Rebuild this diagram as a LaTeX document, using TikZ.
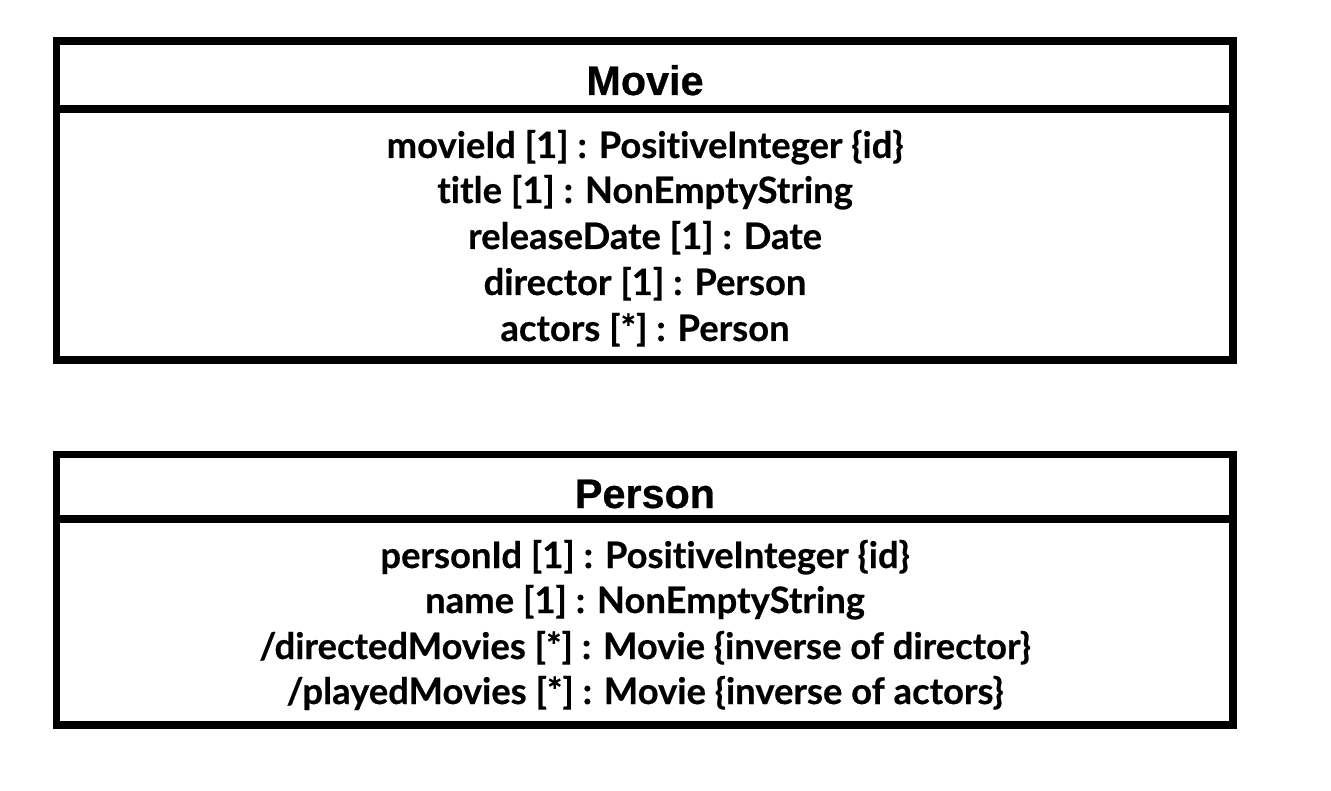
\documentclass[tikz,border=0pt]{standalone}
\usepackage{fontspec}
\newfontfamily\titlefont{Liberation Sans}[FakeBold=0.6]
\newfontfamily\attrfont{Lato}[Ligatures=NoCommon,FakeBold=0.5]
\begin{document}
\begin{tikzpicture}[x=0.75pt,y=-0.75pt,
  box/.style={draw=black,line width=5.6pt,line join=miter},
  title/.style={anchor=base,inner sep=0pt,font=\titlefont\bfseries\fontsize{31pt}{36pt}\selectfont},
  attr/.style={anchor=base,inner sep=0pt,font=\attrfont\bfseries\fontsize{27.3pt}{32pt}\selectfont}]
\useasboundingbox (0,0) rectangle (1331,791);
\fill[white] (0,0) rectangle (1331,791);
% Movie class
\draw[box] (56.5,41) rectangle (1233,360);
\draw[box] (56.5,109) -- (1233,109);
\node[title] (movie) at (645,95) {Movie};
\node[attr] (m1) at (645,158) {movieId [1] : PositiveInteger \{id\}};
\node[attr] (m2) at (645,203) {title [1] : NonEmptyString};
\node[attr] (m3) at (645,249) {releaseDate [1] : Date};
\node[attr] (m4) at (645,295) {director [1] : Person};
\node[attr] (m5) at (645,341) {actors [*] : Person};
% Person class
\draw[box] (56.5,454.5) rectangle (1233,725);
\draw[box] (56.5,519) -- (1233,519);
\node[title] (person) at (645,508) {Person};
\node[attr] (p1) at (645,568) {personId [1] : PositiveInteger \{id\}};
\node[attr] (p2) at (645,613) {name [1] : NonEmptyString};
\node[attr] (p3) at (645,659) {/directedMovies [*] : Movie \{inverse of director\}};
\node[attr] (p4) at (645,704) {/playedMovies [*] : Movie \{inverse of actors\}};
\end{tikzpicture}
\end{document}
